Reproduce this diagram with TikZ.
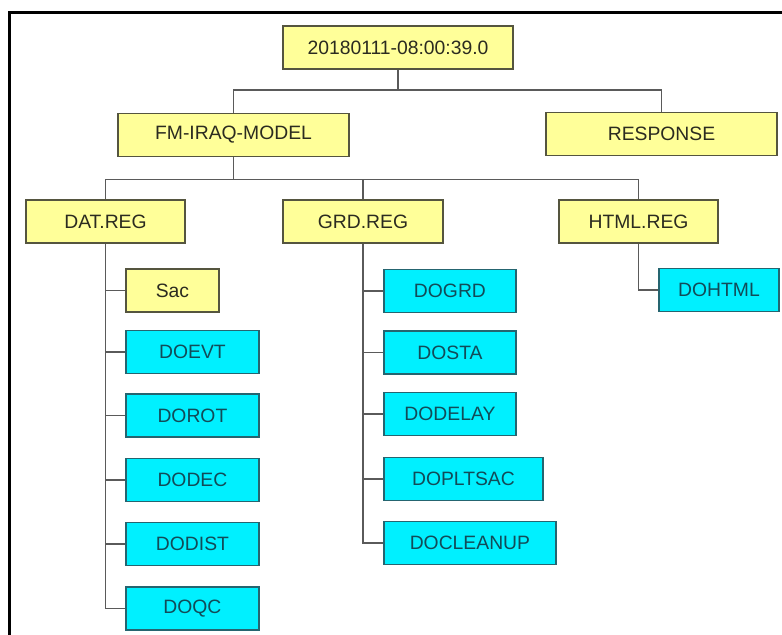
\documentclass[tikz,border=0pt]{standalone}
\usepackage{fontspec}
\setmainfont{Liberation Sans}
\usetikzlibrary{positioning}
\definecolor{boxYellow}{HTML}{FFFF99}
\definecolor{boxCyan}{HTML}{00F0FF}
\definecolor{lineGray}{HTML}{5A5A5A}
\definecolor{yEdge}{HTML}{55553F}
\definecolor{cEdge}{HTML}{256570}
\definecolor{yText}{HTML}{2B2B20}
\definecolor{cText}{HTML}{124B58}

\begin{document}
\begin{tikzpicture}[x=0.03cm, y=-0.03cm, font=\fontsize{16.5}{19}\selectfont,
    ybox/.style={rectangle, draw=yEdge, fill=boxYellow, line width=1.6pt,
      inner sep=0pt, minimum height=1.29cm, text=yText},
    cbox/.style={rectangle, draw=cEdge, fill=boxCyan, line width=1.6pt,
      inner sep=0pt, minimum height=1.29cm, text=cText},
    link/.style={draw=lineGray, line width=1.5pt}]
    \useasboundingbox (0,0) rectangle (782,634);
    % outer frame, only top and left edges show
    \draw[line width=2.6pt] (9.5,640) -- (9.5,12.5) -- (790,12.5);

    \node[ybox, minimum width=6.9cm] (root) at (398,47.5) {20180111-08:00:39.0};
    \node[ybox, minimum width=6.93cm] (fm) at (233.5,135) {FM-IRAQ-MODEL};
    \node[ybox, minimum width=6.93cm] (resp) at (661.5,134) {RESPONSE};
    \draw[link] (root.south) -- ++(0,20) -| (fm.north);
    \draw[link] (root.south) -- ++(0,20) -| (resp.north);

    \node[ybox, minimum width=4.77cm] (dat) at (105.5,221.5) {DAT.REG};
    \node[ybox, minimum width=4.8cm] (grd) at (363,221.5) {GRD.REG};
    \node[ybox, minimum width=4.77cm] (html) at (638.5,221.5) {HTML.REG};
    \foreach \n in {dat, grd, html}
      \draw[link] (fm.south) -- ++(0,22) -| (\n.north);

    % DAT.REG branch
    \node[ybox, minimum width=2.79cm, anchor=west] (sac) at (125,290.5) {Sac};
    \draw[link] (dat.south) |- (sac.west);
    \foreach \n/\t/\y in {evt/DOEVT/352, rot/DOROT/415.5, dec/DODEC/480,
                          dist/DODIST/544, qc/DOQC/608.5} {
      \node[cbox, minimum width=3.99cm, anchor=west] (\n) at (125,\y) {\t};
      \draw[link] (dat.south) |- (\n.west);
    }

    % GRD.REG branch
    \foreach \n/\t/\w/\y in {grdrun/DOGRD/3.96/291, sta/DOSTA/3.96/352.5,
                             delay/DODELAY/3.96/414, plt/DOPLTSAC/4.77/479,
                             clean/DOCLEANUP/5.16/543} {
      \node[cbox, minimum width=\w cm, anchor=west] (\n) at (383,\y) {\t};
      \draw[link] (grd.south) |- (\n.west);
    }

    % HTML.REG branch
    \node[cbox, minimum width=3.6cm, anchor=west] (dohtml) at (658,290) {DOHTML};
    \draw[link] (html.south) |- (dohtml.west);
\end{tikzpicture}
\end{document}
